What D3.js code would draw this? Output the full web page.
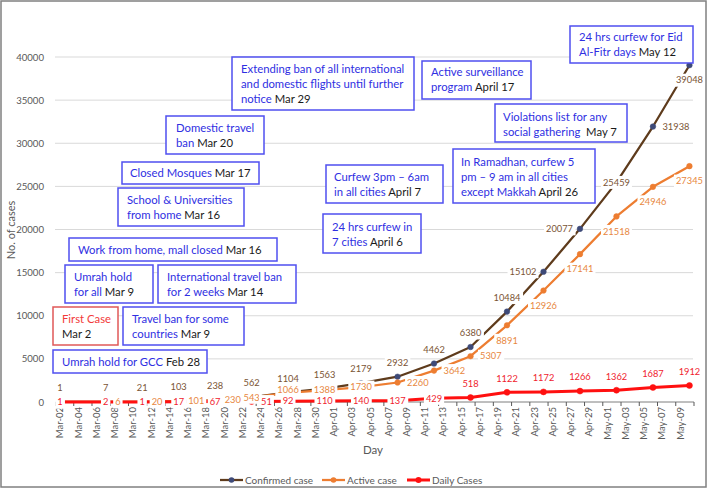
<!DOCTYPE html>
<html><head><meta charset="utf-8">
<script src="https://cdn.jsdelivr.net/npm/d3@7"></script>
<style>
body{margin:0;background:#fff}
svg{display:block}
text{font-family:Lato,"Open Sans",sans-serif}
</style>
</head><body>
<svg id="c" width="708" height="490"></svg>
<script>
// ---------- DATA ----------
const categories = ["Mar-02","Mar-03","Mar-04","Mar-05","Mar-06","Mar-07","Mar-08","Mar-09","Mar-10","Mar-11","Mar-12","Mar-13","Mar-14","Mar-15","Mar-16","Mar-17","Mar-18","Mar-19","Mar-20","Mar-21","Mar-22","Mar-23","Mar-24","Mar-25","Mar-26","Mar-27","Mar-28","Mar-29","Mar-30","Mar-31","Apr-01","Apr-02","Apr-03","Apr-04","Apr-05","Apr-06","Apr-07","Apr-08","Apr-09","Apr-10","Apr-11","Apr-12","Apr-13","Apr-14","Apr-15","Apr-16","Apr-17","Apr-18","Apr-19","Apr-20","Apr-21","Apr-22","Apr-23","Apr-24","Apr-25","Apr-26","Apr-27","Apr-28","Apr-29","Apr-30","May-01","May-02","May-03","May-04","May-05","May-06","May-07","May-08","May-09","May-10"];
const pointDates = ["Mar-02","Mar-07","Mar-11","Mar-15","Mar-19","Mar-23","Mar-27","Mar-31","Apr-04","Apr-08","Apr-12","Apr-16","Apr-20","Apr-24","Apr-28","May-02","May-06","May-10"];
const confirmed = [1,7,21,103,238,562,1104,1563,2179,2932,4462,6380,10484,15102,20077,25459,31938,39048];
const active    = [1,6,20,101,230,543,1066,1388,1730,2260,3642,5307,8891,12926,17141,21518,24946,27345];
const daily     = [1,2,1,17,67,51,92,110,140,137,429,518,1122,1172,1266,1362,1687,1912];
const yTicks = [0,5000,10000,15000,20000,25000,30000,35000,40000];
const seriesNames = ["Confirmed case","Active case","Daily Cases"];

// ---------- LAYOUT / STYLE CONFIG ----------
const confirmedPlace = ["above","above","above","above","above","above","above","above","above","above","above","above","above","left","left","center","right","below"];
const activePlace    = ["center","right","right","right","right","center","centerUp","center","center","right","right","right","below","below","below","below","below","below"];
const dailyPlace     = ["center","center","center","center","center","right","center","center","center","center","center","above","above","above","above","above","above","above"];

const BLUE_T="#2f2fe2", BLUE_B="#4f4ff0", RED_T="#f23a3a", RED_B="#e05858";
// annotation boxes: [x0,y0,x1,y1,textLeft,firstLineCenterY, lines, border]
const notes = [
 [232,57,414,110,241,69,[["Extending ban of all international"],["and domestic flights until further"],["notice"," Mar 29"]],BLUE_B],
 [166,116,264,154,176,128,[["Domestic travel"],["ban"," Mar 20"]],BLUE_B],
 [122,162,259,184,130,173,[["Closed Mosques"," Mar 17"]],BLUE_B],
 [118,188,244,226,127,200,[["School & Universities"],["from home"," Mar 16"]],BLUE_B],
 [69,238,277,261,78,250,[["Work from home, mall closed"," Mar 16"]],BLUE_B],
 [65,265,153,303,74,277,[["Umrah hold"],["for all"," Mar 9"]],BLUE_B],
 [158,265,296,303,167,277,[["International travel ban"],["for 2 weeks"," Mar 14"]],BLUE_B],
 [53,307,118,345,62,319,[["First Case"],["","Mar 2"]],RED_B],
 [123,307,244,345,132,319,[["Travel ban for some"],["countries"," Mar 9"]],BLUE_B],
 [53,350,207,373,62,362,[["Umrah hold for GCC"," Feb 28"]],BLUE_B],
 [422,61,531,99,431,72,[["Active surveillance"],["program"," April 17"]],BLUE_B],
 [570,26,693,63,579,37,[["24 hrs curfew for Eid"],["Al-Fitr days"," May 12"]],BLUE_B],
 [495,104,627,142,503,117,[["Violations list for any"],["social gathering","  May 7"]],BLUE_B],
 [453,149,595,203,461,162,[["In Ramadhan, curfew 5"],["pm \u2013 9 am in all cities"],["except Makkah"," April 26"]],BLUE_B],
 [326,165,443,203,334,177,[["Curfew 3pm \u2013 6am"],["in all cities"," April 7"]],BLUE_B],
 [323,214,421,253,332,227,[["24 hrs curfew in"],["7 cities"," April 6"]],BLUE_B]
];

const colors = {
  confirmed:{line:"#5e3b1c", marker:"#3e4a78", text:"#7a5434"},
  active:{line:"#ed7d31", marker:"#ed7d31", text:"#e8873e"},
  daily:{line:"#ff1010", marker:"#ff1010", text:"#f0222e"}
};

// ---------- CHART ----------
const svg = d3.select("#c");
svg.append("rect").attr("width",708).attr("height",490).attr("fill","#fff");

const x = d3.scaleBand().domain(categories).range([55.5,694]);
const cx = d => x(d) + x.bandwidth()/2;
const y = d3.scaleLinear().domain([0,40000]).range([402,57]);

// gridlines
svg.append("g").selectAll("line").data(yTicks.filter(v=>v>0)).join("line")
  .attr("x1",55).attr("x2",693).attr("y1",d=>y(d)).attr("y2",d=>y(d))
  .attr("stroke","#d9d9d9").attr("stroke-width",1);

// y axis labels
const yAxis = d3.axisLeft(y).tickValues(yTicks).tickSize(0).tickPadding(11).tickFormat(d3.format("d"));
const gy = svg.append("g").attr("transform","translate(55,0)").call(yAxis);
gy.select(".domain").remove();
gy.selectAll("text").attr("fill","#595959").style("font-size","9.6px").style("font-family","Lato");

// x axis
const gx = svg.append("g").attr("transform","translate(0,402)");
gx.append("line").attr("x1",55.5).attr("x2",694).attr("stroke","#7f7f7f").attr("stroke-width",1);
const tickIdx = d3.range(0, categories.length+1, 2);
gx.selectAll("line.t").data(tickIdx).join("line").attr("class","t")
  .attr("x1",i=>55.5+i*x.step()).attr("x2",i=>55.5+i*x.step())
  .attr("y1",0).attr("y2",4).attr("stroke","#595959").attr("stroke-width",1);
gx.selectAll("text").data(categories.filter((d,i)=>i%2===0)).join("text")
  .attr("transform",d=>`translate(${cx(d)},5) rotate(-90)`)
  .attr("text-anchor","end").attr("dy","0.35em")
  .attr("fill","#595959").style("font-size","9.5px").text(d=>d);

// series
const series = [
  {key:"confirmed", values:confirmed, width:2.25, r:2.8, place:confirmedPlace},
  {key:"active", values:active, width:2.25, r:2.8, place:activePlace},
  {key:"daily", values:daily, width:3, r:3, place:dailyPlace}
];
const line = d3.line().x((d,i)=>cx(pointDates[i])).y(d=>y(d));
series.forEach(s=>{
  const c = colors[s.key];
  svg.append("path").datum(s.values).attr("d",line)
    .attr("fill","none").attr("stroke",c.line).attr("stroke-width",s.width).attr("stroke-linejoin","round");
  svg.append("g").selectAll("circle").data(s.values).join("circle")
    .attr("cx",(d,i)=>cx(pointDates[i])).attr("cy",d=>y(d)).attr("r",s.r)
    .attr("fill",c.marker).attr("stroke",c.marker).attr("stroke-width",0.5);
});

// data labels with white background
series.forEach(s=>{
  const c = colors[s.key];
  s.values.forEach((v,i)=>{
    const px = cx(pointDates[i]), py = y(v), p = s.place[i];
    let tx=px, ty=py, anchor="middle";
    if(p==="above"){ty=py-14;}
    else if(p==="below"){ty=py+15;}
    else if(p==="left"){tx=px-7;anchor="end";}
    else if(p==="right"){tx=px+9.5;anchor="start";}
    else if(p==="centerUp"){ty=py-3;}
    const g = svg.append("g");
    const r = g.append("rect").attr("fill","#fff");
    const t = g.append("text").attr("x",tx).attr("y",ty).attr("dy","0.35em")
      .attr("text-anchor",anchor).attr("fill",c.text).style("font-size","9.3px").text(v);
    const b = t.node().getBBox();
    r.attr("x",b.x-2).attr("y",ty-6.5).attr("width",b.width+4).attr("height",13);
  });
});

// annotations
notes.forEach(n=>{
  const [x0,y0,x1,y1,tl,ly,lines,border] = n;
  const g = svg.append("g");
  g.append("rect").attr("x",x0).attr("y",y0).attr("width",x1-x0).attr("height",y1-y0)
    .attr("fill","#fff").attr("stroke",border).attr("stroke-width",1.5);
  lines.forEach((ln,k)=>{
    const t = g.append("text").attr("x",tl).attr("y",ly+k*15).attr("dy","0.35em").style("font-size","11.3px");
    t.append("tspan").attr("fill",border===RED_B?RED_T:BLUE_T).text(ln[0]);
    if(ln[1]) t.append("tspan").attr("fill","#1a1a1a").style("white-space","pre").text(ln[1]);
  });
});

// axis titles
svg.append("text").attr("transform","translate(11,230) rotate(-90)").attr("text-anchor","middle").attr("dy","0.35em")
  .attr("fill","#595959").style("font-size","11px").text("No. of cases");
svg.append("text").attr("x",373).attr("y",450).attr("text-anchor","middle").attr("dy","0.35em")
  .attr("fill","#595959").style("font-size","11.5px").text("Day");

// legend
const legX = [220,322,407];
series.forEach((s,i)=>{
  const c = colors[s.key];
  const g = svg.append("g").attr("transform",`translate(${legX[i]},480)`);
  g.append("line").attr("x1",0).attr("x2",23).attr("stroke",c.line).attr("stroke-width",s.width);
  g.append("circle").attr("cx",11.5).attr("r",s.r).attr("fill",c.marker);
  g.append("text").attr("x",25).attr("dy","0.35em").attr("fill","#595959").style("font-size","10px").text(seriesNames[i]);
});

// outer border
svg.append("rect").attr("x",1).attr("y",1).attr("width",705).attr("height",486)
  .attr("fill","none").attr("stroke","#808080").attr("stroke-width",1.5);
</script>
</body></html>
